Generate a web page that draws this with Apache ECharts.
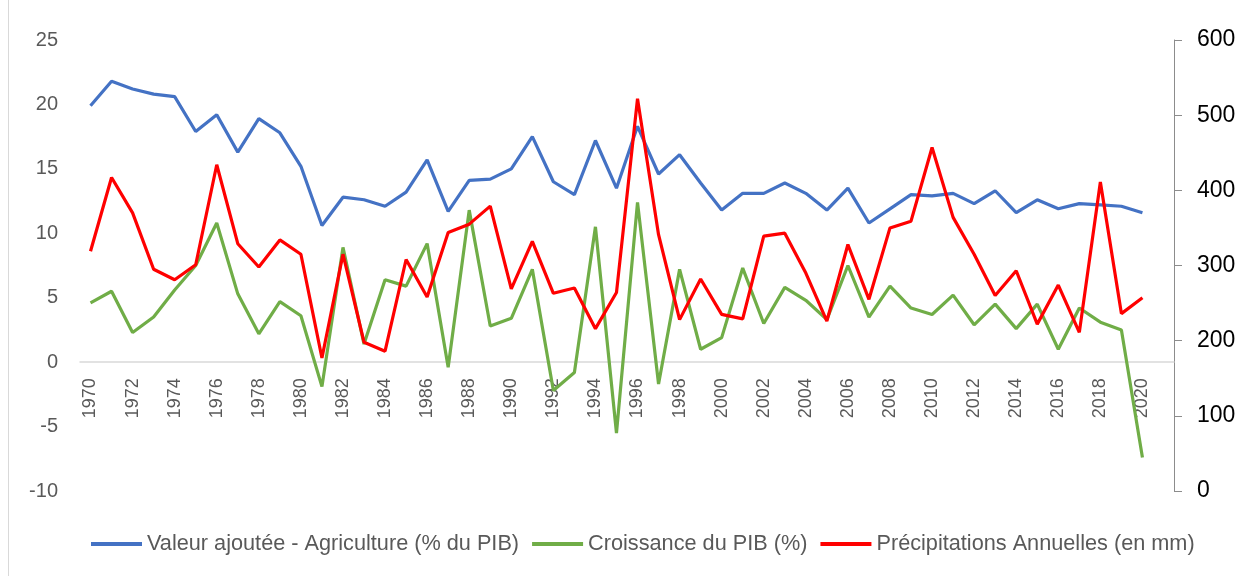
<!DOCTYPE html>
<html>
<head>
<meta charset="utf-8">
<script src="https://cdn.jsdelivr.net/npm/echarts@6/dist/echarts.min.js"></script>
<style>
  html, body { margin: 0; padding: 0; background: #fff; }
  #chart { width: 1254px; height: 576px; }
</style>
</head>
<body>
<div id="chart"></div>
<script>
// years (2021 slot is empty in the source chart)
var years = [];
for (var y = 1970; y <= 2021; y++) years.push(String(y));

// Valeur ajoutée - Agriculture (% du PIB)
var agriculture = [19.9, 21.8, 21.2, 20.8, 20.6, 17.9, 19.2, 16.3, 18.9, 17.8,
  15.2, 10.6, 12.8, 12.6, 12.1, 13.2, 15.7, 11.7, 14.1, 14.2,
  15.0, 17.5, 14.0, 13.0, 17.2, 13.5, 18.3, 14.6, 16.1, 13.9,
  11.8, 13.1, 13.1, 13.9, 13.1, 11.8, 13.5, 10.8, 11.9, 13.0,
  12.9, 13.1, 12.3, 13.3, 11.6, 12.6, 11.9, 12.3, 12.2, 12.1,
  11.6, null];

// Croissance du PIB (%)
var croissance = [4.6, 5.5, 2.3, 3.5, 5.6, 7.5, 10.8, 5.3, 2.2, 4.7,
  3.6, -1.9, 8.9, 1.4, 6.4, 5.9, 9.2, -0.4, 11.8, 2.8,
  3.4, 7.2, -2.2, -0.8, 10.5, -5.5, 12.4, -1.7, 7.2, 1.0,
  1.9, 7.3, 3.0, 5.8, 4.8, 3.3, 7.5, 3.5, 5.9, 4.2,
  3.7, 5.2, 2.9, 4.5, 2.6, 4.5, 1.0, 4.2, 3.1, 2.5,
  -7.4, null];

// Précipitations Annuelles (en mm)
var precipitations = [319, 417, 370, 295, 281, 301, 434, 329, 298, 334,
  315, 177, 315, 198, 186, 308, 258, 344, 355, 379,
  269, 332, 263, 270, 216, 264, 522, 341, 228, 282,
  235, 229, 339, 343, 290, 226, 328, 255, 350, 359,
  457, 364, 315, 260, 293, 222, 274, 211, 411, 236,
  257, null];

var leftMin = -10, leftMax = 25;
var gridTop = 40, gridBottom = 85, chartH = 576;
// move the category axis up to the zero line of the left axis
var plotH = chartH - gridTop - gridBottom;
var zeroOffset = -plotH * (0 - leftMin) / (leftMax - leftMin);

var chart = echarts.init(document.getElementById('chart'));

var option = {
  animation: false,
  textStyle: { fontFamily: 'Liberation Sans, Arial, sans-serif' },
  graphic: [{
    type: 'line',
    shape: { x1: 8.5, y1: 0, x2: 8.5, y2: 576 },
    style: { stroke: '#d9d9d9', lineWidth: 1 }
  }],
  grid: { left: 80, right: 80, top: gridTop, bottom: gridBottom, containLabel: false },
  legend: {
    bottom: 16,
    left: 86,
    itemWidth: 51,
    itemHeight: 4,
    itemGap: 13,
    icon: 'rect',
    textStyle: { color: '#595959', fontSize: 21.7 },
    data: ['Valeur ajoutée - Agriculture (% du PIB)', 'Croissance du PIB (%)', 'Précipitations Annuelles (en mm)']
  },
  xAxis: {
    type: 'category',
    data: years,
    boundaryGap: true,
    offset: zeroOffset,
    axisLine: { onZero: false, lineStyle: { color: '#d9d9d9', width: 1.5 } },
    axisTick: { show: false },
    axisLabel: { interval: 1, rotate: 90, color: '#595959', fontSize: 18, margin: 16 }
  },
  yAxis: [{
    type: 'value',
    min: leftMin, max: leftMax, interval: 5,
    axisLine: { show: false },
    axisTick: { show: false },
    splitLine: { show: false },
    axisLabel: { color: '#595959', fontSize: 20, margin: 22 }
  }, {
    type: 'value',
    position: 'right',
    min: 0, max: 600, interval: 100,
    axisLine: { show: true, lineStyle: { color: '#8c8c8c', width: 1 } },
    axisTick: { show: true, inside: false, length: 8, lineStyle: { color: '#8c8c8c' } },
    splitLine: { show: false },
    axisLabel: { color: '#000', fontSize: 23, margin: 23 }
  }],
  series: [{
    name: 'Valeur ajoutée - Agriculture (% du PIB)',
    type: 'line',
    yAxisIndex: 0,
    data: agriculture,
    symbol: 'none',
    lineStyle: { color: '#4472C4', width: 3.2 },
    itemStyle: { color: '#4472C4' }
  }, {
    name: 'Croissance du PIB (%)',
    type: 'line',
    yAxisIndex: 0,
    data: croissance,
    symbol: 'none',
    lineStyle: { color: '#70AD47', width: 3.2 },
    itemStyle: { color: '#70AD47' }
  }, {
    name: 'Précipitations Annuelles (en mm)',
    type: 'line',
    yAxisIndex: 1,
    data: precipitations,
    symbol: 'none',
    lineStyle: { color: '#FF0000', width: 3.2 },
    itemStyle: { color: '#FF0000' }
  }]
};

chart.setOption(option);
</script>
</body>
</html>
